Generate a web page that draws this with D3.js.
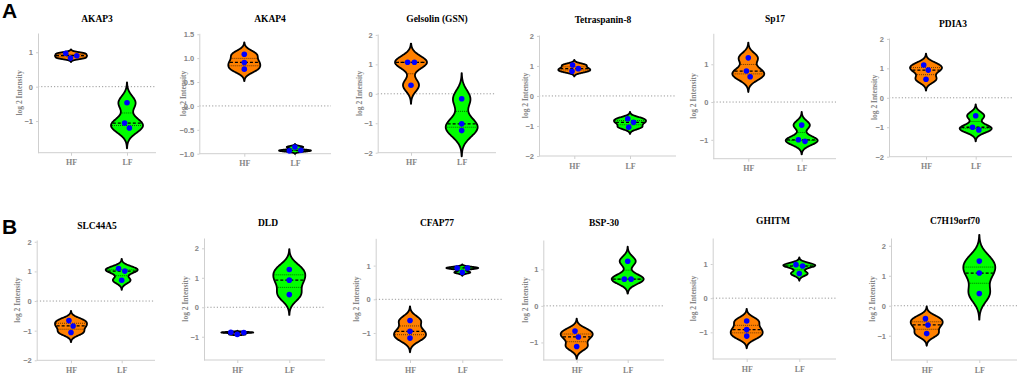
<!DOCTYPE html>
<html>
<head>
<meta charset="utf-8">
<script src="https://cdn.jsdelivr.net/npm/d3@7"></script>
<style>
  body { margin: 0; background: #fff; }
  svg { display: block; }
</style>
</head>
<body>
<div id="chart"></div>
<script>
// Data: log2 intensities per protein, three samples per group
const genes = ["AKAP3", "AKAP4", "Gelsolin (GSN)", "Tetraspanin-8", "Sp17", "PDIA3",
               "SLC44A5", "DLD", "CFAP77", "BSP-30", "GHITM", "C7H19orf70"]
const groups = ["HF", "LF"]
const hfValues = [
    [0.97, 0.83, 0.90], [1.08, 0.91, 0.77], [1.07, 1.07, 0.29], [1.03, 0.82, 0.91],
    [1.17, 0.82, 0.67], [1.11, 0.94, 0.63], [-0.66, -0.84, -1.06], [-0.92, -0.85, -0.86],
    [-0.63, -0.95, -1.15], [-0.69, -0.85, -1.11], [-0.67, -0.92, -1.11], [-0.43, -0.64, -0.93]
]
const lfValues = [
    [-0.47, -1.06, -1.20], [-0.94, -0.86, -0.93], [-0.17, -1.02, -1.25], [-0.76, -0.88, -1.04],
    [-0.61, -1.00, -1.04], [-0.61, -1.00, -1.09], [1.10, 1.01, 0.70], [1.28, 0.92, 0.43],
    [0.93, 0.93, 0.80], [1.22, 0.73, 0.73], [0.98, 0.94, 0.72], [1.49, 1.09, 0.41]
]
// y axis ranges and tick values, per panel
const yDomains = [
    [-1.92, 1.56], [-1.0, 1.52], [-2.0, 2.03], [-2.0, 2.03], [-1.5, 1.82], [-2.0, 2.03],
    [-2.0, 2.06], [-1.79, 2.35], [-1.8, 1.81], [-1.48, 1.8], [-1.78, 1.76], [-1.81, 2.26]
]
const yTicks = [
    [-1, 0, 1], [-1, -0.5, 0, 0.5, 1, 1.5], [-2, -1, 0, 1, 2], [-2, -1, 0, 1, 2],
    [-1, 0, 1], [-2, -1, 0, 1, 2], [-2, -1, 0, 1, 2], [-1, 0, 1, 2],
    [-1, 0, 1], [-1, 0, 1], [-1, 0, 1], [-1, 0, 1, 2]
]
const yTickFormats = ["d", ".1f", "d", "d", "d", "d", "d", "d", "d", "d", "d", "d"]

// Layout of each small panel (pixels)
const layout = [
    {ax:38,    hf:71,    lf:127,   end:156,  top:33,    bot:152.7, labelX:19,  titleX:97,  titleY:19},
    {ax:199.3, hf:244.3, lf:295,   end:331,  top:33.3,  bot:153.7, labelX:183, titleX:270, titleY:19},
    {ax:377.7, hf:411,   lf:461.7, end:496,  top:34,    bot:152.7, labelX:359, titleX:437, titleY:19},
    {ax:539,   hf:574.3, lf:630,   end:676,  top:35,    bot:156,   labelX:525, titleX:603, titleY:20},
    {ax:713.3, hf:748.3, lf:801.7, end:836,  top:33.3,  bot:158.7, labelX:693, titleX:775, titleY:19},
    {ax:889,   hf:926,   lf:975.7, end:1012, top:38,    bot:156.7, labelX:874, titleX:953, titleY:24},
    {ax:36.7,  hf:71,    lf:121.7, end:155,  top:240,   bot:360.3, labelX:17,  titleX:97,  titleY:226},
    {ax:204,   hf:237.3, lf:289.3, end:325,  top:238,   bot:360,   labelX:185, titleX:268, titleY:223},
    {ax:375.7, hf:410,   lf:462.3, end:503,  top:238.3, bot:360,   labelX:356, titleX:437, titleY:223},
    {ax:543.3, hf:576.7, lf:627.7, end:664,  top:240,   bot:360,   labelX:525, titleX:604, titleY:223},
    {ax:712.7, hf:746.7, lf:799.3, end:836,  top:238,   bot:359,   labelX:693, titleX:773, titleY:221},
    {ax:891,   hf:926.7, lf:979.3, end:1017, top:238,   bot:360,   labelX:872, titleX:955, titleY:221}
]

const WIDTH = 1017
const HEIGHT = 375
const HALF_WIDTH = 16          // max half width of a violin
const DOT_R = 2.8
const COLOURS = {HF: "#ff8000", LF: "#00ff00"}
const AXIS_GREY = "#cfcfcf"
const TEXT_GREY = "#858585"
const SERIF = "'Liberation Serif', 'Times New Roman', serif"
const SANS = "'Liberation Sans', Arial, sans-serif"

// Gaussian kernel density with Silverman's bandwidth, cut at 3 bandwidths
function density(values) {
    const s = values.slice().sort(d3.ascending)
    const sd = d3.deviation(s)
    const iqr = d3.quantile(s, 0.75) - d3.quantile(s, 0.25)
    const h = Math.max(0.9 * Math.min(sd, iqr / 1.34) * Math.pow(s.length, -0.2), 0.01)
    const f = v => d3.mean(s, x => Math.exp(-0.5 * ((v - x) / h) ** 2))
    const lo = s[0] - 3 * h, hi = s[s.length - 1] + 3 * h
    const curve = d3.range(101).map(i => {
        const v = lo + (hi - lo) * i / 100
        return {v: v, d: f(v)}
    })
    return {curve: curve, f: f, max: d3.max(curve, c => c.d)}
}

const svg = d3.select("#chart").append("svg")
    .attr("width", WIDTH)
    .attr("height", HEIGHT)

// Panel letters
svg.append("text").attr("x", 2).attr("y", 18).text("A")
    .style("font-family", SANS).style("font-weight", "bold").style("font-size", "21px")
svg.append("text").attr("x", 2).attr("y", 234).text("B")
    .style("font-family", SANS).style("font-weight", "bold").style("font-size", "21px")

genes.forEach((gene, i) => {
    const L = layout[i]
    const g = svg.append("g")

    const y = d3.scaleLinear().domain(yDomains[i]).range([L.bot, L.top])
    const x = d3.scalePoint().domain(groups).range([L.hf, L.lf])

    // zero reference line
    g.append("line")
        .attr("x1", L.ax).attr("x2", L.end)
        .attr("y1", y(0)).attr("y2", y(0))
        .attr("stroke", "#9a9a9a").attr("stroke-width", 1)
        .attr("stroke-dasharray", "1.2,2")

    // y axis
    const yAxis = g.append("g")
        .attr("transform", `translate(${L.ax},0)`)
        .call(d3.axisLeft(y).tickValues(yTicks[i]).tickFormat(d3.format(yTickFormats[i]))
            .tickSize(2).tickSizeOuter(0).tickPadding(3))
    yAxis.select(".domain").attr("stroke", AXIS_GREY)
    yAxis.selectAll(".tick line").attr("stroke", AXIS_GREY)
    yAxis.selectAll("text")
        .attr("fill", TEXT_GREY)
        .style("font-family", SANS).style("font-size", "7.5px").style("font-weight", "bold")

    // x axis
    g.append("line")
        .attr("x1", L.ax).attr("x2", L.end)
        .attr("y1", L.bot).attr("y2", L.bot)
        .attr("stroke", AXIS_GREY)
    const xAxis = g.append("g")
        .attr("transform", `translate(0,${L.bot})`)
        .call(d3.axisBottom(x).tickSize(3).tickPadding(4))
    xAxis.select(".domain").remove()
    xAxis.selectAll(".tick line").attr("stroke", AXIS_GREY)
    xAxis.selectAll("text")
        .attr("fill", TEXT_GREY)
        .style("font-family", SERIF).style("font-size", "8px").style("font-weight", "bold")

    // y axis title
    g.append("text")
        .attr("transform", `translate(${L.labelX},${(L.top + L.bot) / 2}) rotate(-90)`)
        .attr("text-anchor", "middle")
        .attr("dominant-baseline", "central")
        .attr("fill", TEXT_GREY)
        .style("font-family", SERIF).style("font-size", "7.5px").style("font-weight", "bold")
        .text("log 2 Intensity")

    // panel title
    g.append("text")
        .attr("x", L.titleX).attr("y", L.titleY)
        .attr("text-anchor", "middle")
        .attr("dominant-baseline", "central")
        .style("font-family", SERIF).style("font-size", "9.5px").style("font-weight", "bold")
        .text(gene)

    // violins
    const sets = {HF: hfValues[i], LF: lfValues[i]}
    groups.forEach(grp => {
        const vals = sets[grp]
        const cx = x(grp)
        const k = density(vals)
        const w = d => d / k.max * HALF_WIDTH

        const area = d3.area()
            .y(c => y(c.v))
            .x0(c => cx - w(c.d))
            .x1(c => cx + w(c.d))
            .curve(d3.curveBasis)

        g.append("path")
            .datum(k.curve)
            .attr("d", area)
            .attr("fill", COLOURS[grp])
            .attr("stroke", "#000")
            .attr("stroke-width", 1.8)
            .attr("stroke-linejoin", "round")

        // quartiles (thin dotted) and median (dashed)
        const s = vals.slice().sort(d3.ascending)
        const stats = [
            {v: d3.quantile(s, 0.25), dash: "1,1", sw: 0.6},
            {v: d3.quantile(s, 0.75), dash: "1,1", sw: 0.6},
            {v: d3.median(s),         dash: "3,2", sw: 1.3}
        ]
        g.selectAll(null)
            .data(stats)
            .enter()
            .append("line")
            .attr("x1", d => cx - w(k.f(d.v)) + 1)
            .attr("x2", d => cx + w(k.f(d.v)) - 1)
            .attr("y1", d => y(d.v))
            .attr("y2", d => y(d.v))
            .attr("stroke", "#000")
            .attr("stroke-width", d => d.sw)
            .attr("stroke-dasharray", d => d.dash)

        // individual samples, spread sideways where they would overlap
        const nodes = vals.map((v, j) => ({x: cx + (j - 1) * 0.4, y: y(v), fy: y(v)}))
        const sim = d3.forceSimulation(nodes)
            .force("x", d3.forceX(cx).strength(0.15))
            .force("collide", d3.forceCollide(3.4))
            .stop()
        for (let t = 0; t < 150; t++) sim.tick()

        g.selectAll(null)
            .data(nodes)
            .enter()
            .append("circle")
            .attr("cx", d => d.x)
            .attr("cy", d => d.fy)
            .attr("r", DOT_R)
            .attr("fill", "#0000ff")
    })
})
</script>
</body>
</html>
